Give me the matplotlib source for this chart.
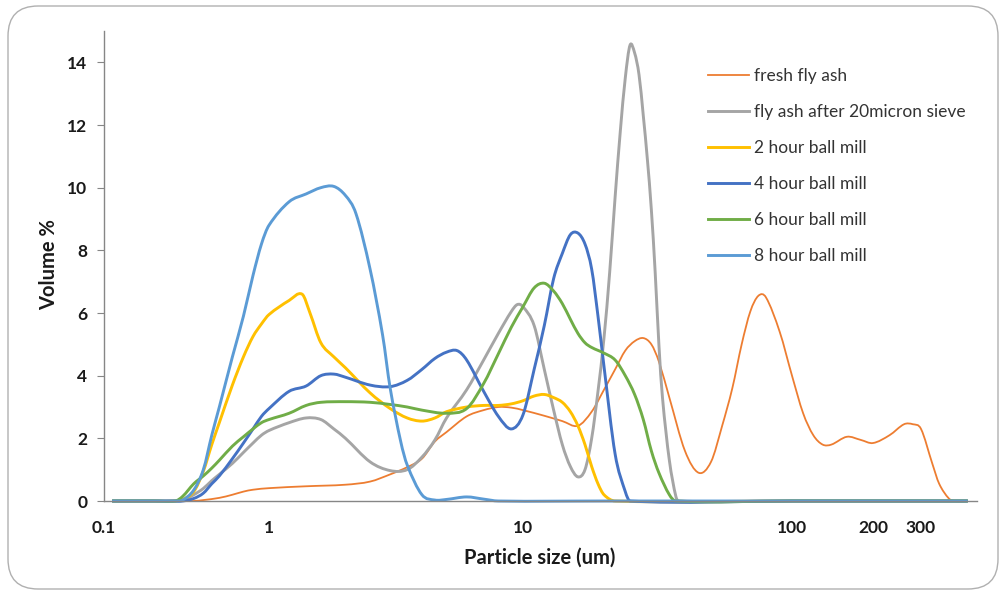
import numpy as np
import matplotlib.pyplot as plt
from matplotlib.patches import FancyBboxPatch, PathPatch
from matplotlib.path import Path
from matplotlib.lines import Line2D

plt.rcParams['font.family'] = ['Lato', 'DejaVu Sans']

# particle size (um) and volume % for each sample
x_fresh = [0.112, 0.2, 0.3, 0.35, 0.4, 0.5, 0.6, 0.7, 0.8, 1.0, 1.4, 2.0, 2.5, 3.0, 3.5, 4.0,
           4.5, 5.0, 6.0, 7.0, 8.0, 9.0, 10, 12, 14, 16, 18, 20, 22, 24, 26, 28, 30, 32, 35,
           40, 45, 50, 55, 60, 65, 70, 75, 80, 90, 100, 110, 120, 130, 140, 160, 180, 200,
           230, 260, 280, 300, 330, 350, 380, 400, 446]
y_fresh = [0, 0, 0, 0, 0.03, 0.1, 0.2, 0.3, 0.36, 0.41, 0.47, 0.52, 0.62, 0.85, 1.08, 1.35,
           1.9, 2.2, 2.7, 2.9, 3.0, 2.98, 2.9, 2.72, 2.55, 2.4, 2.85, 3.55, 4.2, 4.8, 5.1, 5.2,
           5.0, 4.45, 3.3, 1.6, 0.9, 1.25, 2.4, 3.6, 5.0, 6.05, 6.55, 6.5, 5.4, 4.0, 2.8, 2.1,
           1.8, 1.8, 2.05, 1.95, 1.85, 2.1, 2.45, 2.45, 2.3, 1.2, 0.55, 0.08, 0, 0]

x_sieve = [0.112, 0.2, 0.27, 0.3, 0.35, 0.4, 0.45, 0.5, 0.6, 0.7, 0.8, 0.9, 1.0, 1.2, 1.4,
           1.6, 1.8, 2.0, 2.5, 3.0, 3.5, 4.0, 4.5, 5.0, 6.0, 7.0, 8.0, 9.0, 9.5, 10, 11, 12,
           13, 14, 15, 16, 17, 18, 19, 20, 21, 22, 23, 24, 25, 26, 27, 28, 29, 30, 31, 32,
           33, 35, 37, 38, 100, 446]
y_sieve = [0, 0, 0, 0.02, 0.2, 0.4, 0.65, 0.85, 1.2, 1.55, 1.85, 2.1, 2.25, 2.5, 2.65,
           2.6, 2.3, 2.0, 1.25, 0.97, 1.0, 1.4, 1.95, 2.65, 3.55, 4.5, 5.35, 6.05, 6.27, 6.2,
           5.6, 4.2, 2.9, 1.8, 1.1, 0.77, 1.0, 2.0, 3.5, 5.2, 7.3, 9.7, 11.8, 13.5, 14.55,
           14.3, 13.6, 12.3, 10.9, 9.3, 7.3, 5.0, 3.3, 1.3, 0.15, 0, 0, 0]

x_2h = [0.112, 0.2, 0.27, 0.3, 0.35, 0.4, 0.45, 0.5, 0.6, 0.7, 0.8, 0.9, 1.0, 1.2, 1.35,
        1.45, 1.6, 1.8, 2.0, 2.5, 3.0, 3.5, 4.0, 4.5, 5.0, 6.0, 7.0, 8.0, 9.0, 10, 11, 12,
        13, 14, 15, 16, 17, 18, 19, 20, 22, 100, 446]
y_2h = [0, 0, 0, 0.05, 0.3, 0.95, 1.8, 2.5, 3.7, 4.6, 5.25, 5.65, 5.95, 6.4, 6.6,
        6.0, 5.05, 4.6, 4.25, 3.45, 2.95, 2.65, 2.55, 2.65, 2.85, 3.0, 3.05, 3.05, 3.1, 3.2,
        3.35, 3.4, 3.3, 3.15, 2.85, 2.4, 1.8, 1.1, 0.55, 0.2, 0, 0, 0]

x_4h = [0.112, 0.2, 0.27, 0.3, 0.35, 0.4, 0.45, 0.5, 0.6, 0.7, 0.8, 0.9, 1.0, 1.2, 1.4,
        1.6, 1.8, 2.0, 2.5, 3.0, 3.5, 4.0, 4.5, 5.0, 5.5, 6.0, 7.0, 8.0, 9.0, 10, 11, 12,
        13, 14, 15, 16, 17, 18, 19, 20, 22, 24, 25, 100, 446]
y_4h = [0, 0, 0, 0, 0.08, 0.25, 0.55, 0.8, 1.35, 1.85, 2.3, 2.7, 2.95, 3.5, 3.67,
        4.0, 4.05, 3.95, 3.7, 3.65, 3.85, 4.2, 4.55, 4.75, 4.8, 4.5, 3.5, 2.7, 2.3, 2.75,
        4.2, 5.6, 7.1, 7.9, 8.5, 8.55, 8.2, 7.4, 5.9, 4.3, 1.5, 0.3, 0, 0, 0]

x_6h = [0.112, 0.2, 0.27, 0.3, 0.35, 0.4, 0.45, 0.5, 0.6, 0.7, 0.8, 0.9, 1.0, 1.2, 1.4,
        1.6, 2.0, 2.5, 3.0, 3.5, 4.0, 5.0, 6.0, 7.0, 8.0, 9.0, 10, 11, 12, 13, 14, 15, 16,
        17, 18, 20, 22, 24, 26, 28, 30, 32, 35, 37, 100, 446]
y_6h = [0, 0, 0, 0.15, 0.55, 0.8, 1.05, 1.3, 1.75, 2.05, 2.3, 2.5, 2.6, 2.8, 3.05,
        3.15, 3.17, 3.15, 3.08, 3.0, 2.9, 2.8, 2.95, 3.75, 4.7, 5.55, 6.2, 6.8, 6.95, 6.7,
        6.3, 5.8, 5.35, 5.05, 4.9, 4.72, 4.5, 4.0, 3.4, 2.6, 1.6, 0.9, 0.2, 0, 0, 0]

x_8h = [0.112, 0.2, 0.27, 0.3, 0.35, 0.4, 0.45, 0.5, 0.6, 0.7, 0.8, 0.9, 1.0, 1.2, 1.4,
        1.6, 1.8, 2.0, 2.2, 2.5, 2.8, 3.0, 3.3, 3.5, 4.0, 4.5, 5.0, 6.0, 7.0, 8.0, 20, 100,
        446]
y_8h = [0, 0, 0, 0.03, 0.35, 1.0, 2.1, 3.0, 4.6, 5.9, 7.2, 8.2, 8.8, 9.55, 9.8,
        10.0, 10.04, 9.75, 9.17, 7.4, 5.3, 3.6, 1.9, 1.15, 0.2, 0.03, 0.05, 0.13, 0.06, 0,
        0, 0, 0]

labels = ['fresh fly ash', 'fly ash after 20micron sieve', '2 hour ball mill',
          '4 hour ball mill', '6 hour ball mill', '8 hour ball mill']
colors = ['#ED7D31', '#A5A5A5', '#FFC000', '#4472C4', '#70AD47', '#5B9BD5']
xticks = [0.1, 1, 10, 100, 200, 300]
yticks = [0, 2, 4, 6, 8, 10, 12, 14]

# the x axis of the original is log-like but its decades are not equal
knots_log = np.log10([0.1, 1, 10, 100, 200, 300, 1000])
knots_pos = np.array([104, 269, 523, 792, 873, 921, 1063], dtype=float)


def fwd(x):
    x = np.asarray(x, dtype=float)
    return np.interp(np.log10(np.clip(x, 1e-4, None)), knots_log, knots_pos)


def inv(p):
    return 10 ** np.interp(p, knots_pos, knots_log)


def smooth_path(xs, ys):
    # smoothed line like Excel: cubic Hermite through the points, done in scale space
    u = fwd(xs)
    v = np.asarray(ys, dtype=float)
    m = np.empty_like(v)
    m[1:-1] = (v[2:] - v[:-2]) / (u[2:] - u[:-2])
    m[0] = (v[1] - v[0]) / (u[1] - u[0])
    m[-1] = (v[-1] - v[-2]) / (u[-1] - u[-2])
    verts = [(u[0], v[0])]
    codes = [Path.MOVETO]
    for i in range(len(u) - 1):
        h = u[i + 1] - u[i]
        verts += [(u[i] + h / 3, v[i] + m[i] * h / 3),
                  (u[i + 1] - h / 3, v[i + 1] - m[i + 1] * h / 3),
                  (u[i + 1], v[i + 1])]
        codes += [Path.CURVE4] * 3
    verts = np.array(verts)
    verts[:, 0] = inv(verts[:, 0])
    return Path(verts, codes)


fig = plt.figure(figsize=(10.03, 5.95), dpi=100)
fig.patches.append(FancyBboxPatch((8 / 1003, 6 / 595), 990 / 1003, 583 / 595,
                                  boxstyle='round,pad=0,rounding_size=0.03',
                                  transform=fig.transFigure, fc='none', ec='#b0b0b0',
                                  lw=1.0, mutation_aspect=1003 / 595))
ax = fig.add_axes([104 / 1003, 1 - 501 / 595, 873 / 1003, 470 / 595])
ax.patch.set_alpha(0)
ax.set_xscale('function', functions=(fwd, inv))
ax.set_xlim(0.1, inv(977))
ax.set_ylim(0, 15)

series = [(x_fresh, y_fresh), (x_sieve, y_sieve), (x_2h, y_2h),
          (x_4h, y_4h), (x_6h, y_6h), (x_8h, y_8h)]
handles = []
for (xs, ys), lab, c in zip(series, labels, colors):
    lw = 1.3 if lab == 'fresh fly ash' else 2.1
    ax.add_patch(PathPatch(smooth_path(xs, ys), fill=False, edgecolor=c, lw=lw,
                           joinstyle='round', clip_on=False))
    handles.append(Line2D([], [], color=c, lw=lw, label=lab))

ax.set_xticks(xticks)
ax.set_xticklabels([str(t) for t in xticks])
ax.minorticks_off()
ax.set_yticks(yticks)
ax.tick_params(axis='x', length=0, pad=14, labelsize=12.5, labelcolor='#1a1a1a')
ax.tick_params(axis='y', length=5, color='#868686', pad=7, labelsize=12.5,
               labelcolor='#1a1a1a')
for lbl in ax.get_xticklabels() + ax.get_yticklabels():
    lbl.set_fontweight('bold')
for s in ['top', 'right']:
    ax.spines[s].set_visible(False)
for s in ['left', 'bottom']:
    ax.spines[s].set_color('#868686')
    ax.spines[s].set_linewidth(1.0)

ax.set_xlabel('Particle size (um)', fontsize=14.5, fontweight='bold', color='#1a1a1a',
              va='center')
ax.xaxis.set_label_coords(0.4994, (501 - 558) / 470)
ax.set_ylabel('Volume %', fontsize=14.5, fontweight='bold', color='#1a1a1a', va='center')
ax.yaxis.set_label_coords((49 - 104) / 873, (501 - 265) / 470)

ax.legend(handles=handles, loc='upper left', bbox_to_anchor=(0.6735, 0.955),
          frameon=False, fontsize=12.5, labelcolor='#333333', handlelength=2.4,
          handletextpad=0.3, labelspacing=1.16)

fig.savefig('out.png', dpi=100)
